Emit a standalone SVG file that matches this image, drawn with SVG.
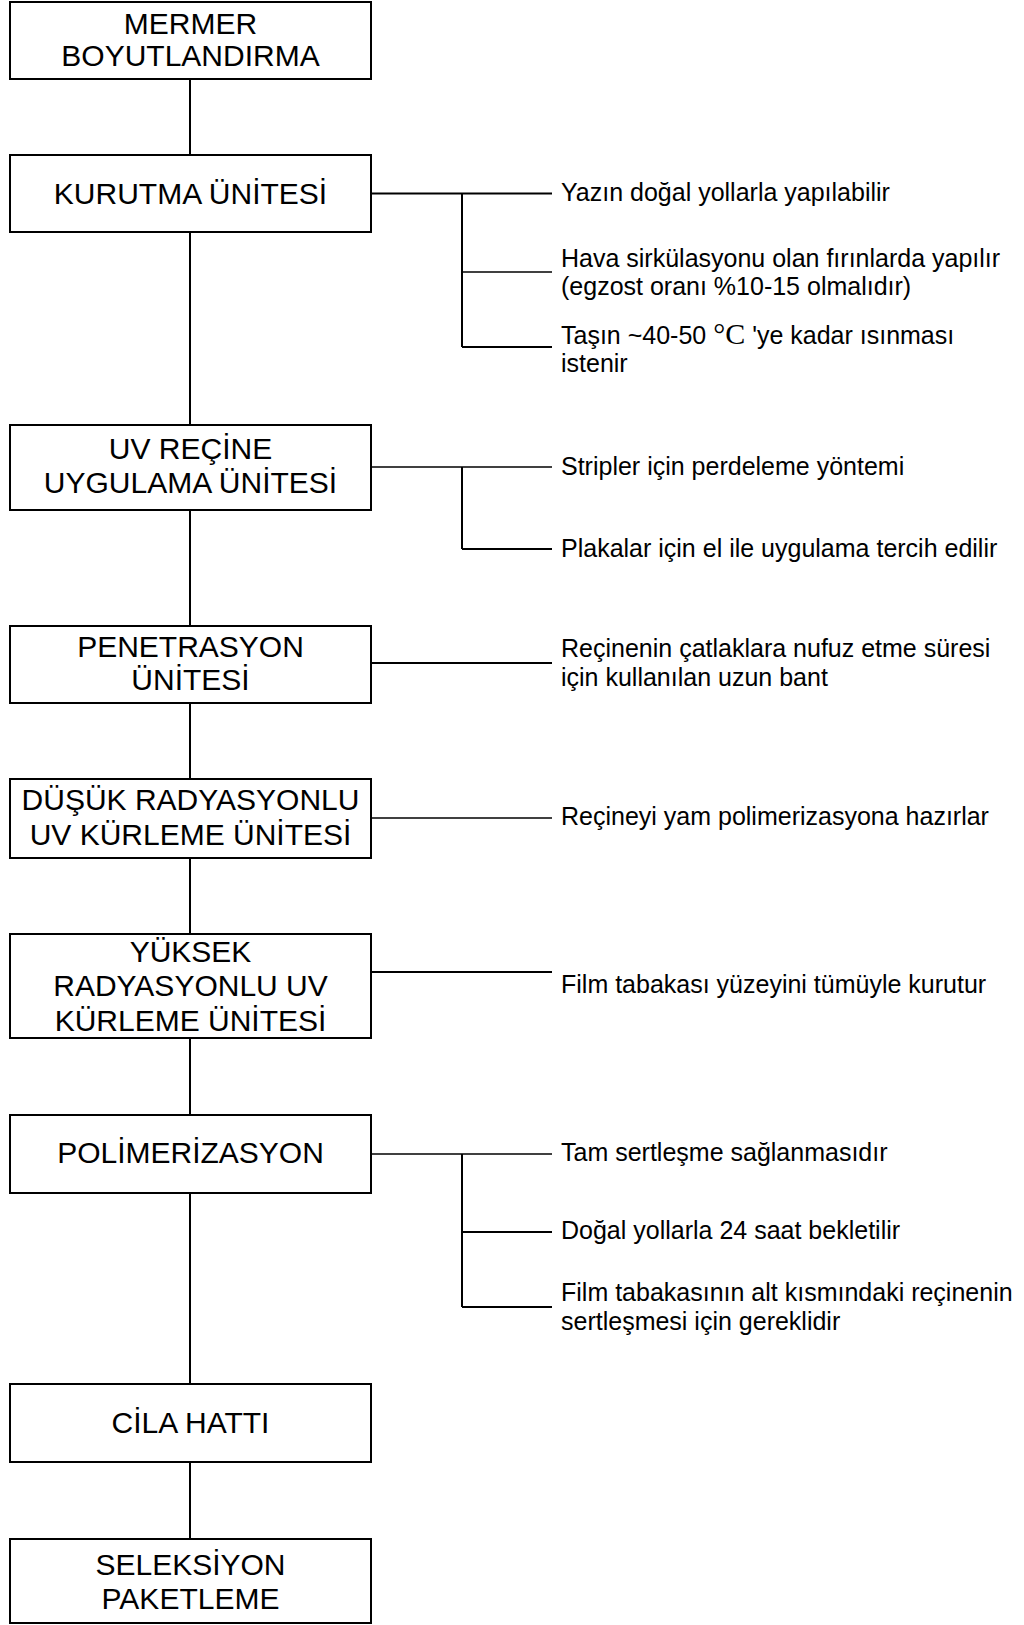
<svg xmlns="http://www.w3.org/2000/svg" width="1024" height="1625" viewBox="0 0 1024 1625">
  <style>
    .box { fill: #fff; stroke: #000; stroke-width: 2; }
    .stem { stroke: #000; stroke-width: 2; fill: none; }
    .thin { stroke: #000; stroke-width: 1.3; fill: none; }
    .label { font-family: "Liberation Sans", Arial, sans-serif; font-size: 30px; fill: #000; text-anchor: middle; }
    .note { font-family: "Liberation Sans", Arial, sans-serif; font-size: 25px; fill: #000; }
    .deg { font-family: "Liberation Serif", "Times New Roman", serif; font-size: 30px; }
  </style>
  <rect width="1024" height="1625" fill="#fff"/>

  <!-- connectors -->
  <g id="connectors">
    <!-- main process spine -->
    <line class="stem" x1="190" y1="79" x2="190" y2="155"/>
    <line class="stem" x1="190" y1="232" x2="190" y2="425"/>
    <line class="stem" x1="190" y1="510" x2="190" y2="626"/>
    <line class="stem" x1="190" y1="703" x2="190" y2="779"/>
    <line class="stem" x1="190" y1="858" x2="190" y2="934"/>
    <line class="stem" x1="190" y1="1038" x2="190" y2="1115"/>
    <line class="stem" x1="190" y1="1193" x2="190" y2="1384"/>
    <line class="stem" x1="190" y1="1462" x2="190" y2="1539"/>

    <!-- drying notes -->
    <line class="stem" x1="371" y1="193.5" x2="552" y2="193.5"/>
    <line class="stem" x1="462" y1="193.5" x2="462" y2="347"/>
    <line class="thin" x1="462" y1="272" x2="552" y2="272"/>
    <line class="stem" x1="462" y1="347" x2="552" y2="347"/>

    <!-- resin application notes -->
    <line class="thin" x1="371" y1="467" x2="552" y2="467"/>
    <line class="stem" x1="462" y1="467" x2="462" y2="549"/>
    <line class="stem" x1="462" y1="549" x2="552" y2="549"/>

    <!-- penetration note -->
    <line class="stem" x1="371" y1="663" x2="552" y2="663"/>

    <!-- low radiation note -->
    <line class="thin" x1="371" y1="818" x2="552" y2="818"/>

    <!-- high radiation note -->
    <line class="stem" x1="371" y1="972" x2="552" y2="972"/>

    <!-- polymerisation notes -->
    <line class="thin" x1="371" y1="1154" x2="552" y2="1154"/>
    <line class="stem" x1="462" y1="1154" x2="462" y2="1307"/>
    <line class="stem" x1="462" y1="1232" x2="552" y2="1232"/>
    <line class="stem" x1="462" y1="1307" x2="552" y2="1307"/>
  </g>

  <!-- process steps -->
  <g id="n-boyutlandirma">
    <rect class="box" x="10" y="2" width="361" height="77"/>
    <text class="label" x="190.5" y="34">MERMER</text>
    <text class="label" x="190.5" y="66">BOYUTLANDIRMA</text>
  </g>
  <g id="n-kurutma">
    <rect class="box" x="10" y="155" width="361" height="77"/>
    <text class="label" x="190.5" y="204">KURUTMA ÜNİTESİ</text>
  </g>
  <g id="n-recine">
    <rect class="box" x="10" y="425" width="361" height="85"/>
    <text class="label" x="190.5" y="459">UV REÇİNE</text>
    <text class="label" x="190.5" y="493">UYGULAMA ÜNİTESİ</text>
  </g>
  <g id="n-penetrasyon">
    <rect class="box" x="10" y="626" width="361" height="77"/>
    <text class="label" x="190.5" y="657">PENETRASYON</text>
    <text class="label" x="190.5" y="690">ÜNİTESİ</text>
  </g>
  <g id="n-dusuk">
    <rect class="box" x="10" y="779" width="361" height="79"/>
    <text class="label" x="190.5" y="810">DÜŞÜK RADYASYONLU</text>
    <text class="label" x="190.5" y="845">UV KÜRLEME ÜNİTESİ</text>
  </g>
  <g id="n-yuksek">
    <rect class="box" x="10" y="934" width="361" height="104"/>
    <text class="label" x="190.5" y="962">YÜKSEK</text>
    <text class="label" x="190.5" y="996">RADYASYONLU UV</text>
    <text class="label" x="190.5" y="1031">KÜRLEME ÜNİTESİ</text>
  </g>
  <g id="n-polimerizasyon">
    <rect class="box" x="10" y="1115" width="361" height="78"/>
    <text class="label" x="190.5" y="1163">POLİMERİZASYON</text>
  </g>
  <g id="n-cila">
    <rect class="box" x="10" y="1384" width="361" height="78"/>
    <text class="label" x="190.5" y="1433">CİLA HATTI</text>
  </g>
  <g id="n-seleksiyon">
    <rect class="box" x="10" y="1539" width="361" height="84"/>
    <text class="label" x="190.5" y="1575">SELEKSİYON</text>
    <text class="label" x="190.5" y="1609">PAKETLEME</text>
  </g>

  <!-- side notes -->
  <g id="notes-kurutma">
    <text class="note" x="561" y="201">Yazın doğal yollarla yapılabilir</text>
    <text class="note" x="561" y="266.5">Hava sirkülasyonu olan fırınlarda yapılır</text>
    <text class="note" x="561" y="295">(egzost oranı %10-15 olmalıdır)</text>
    <text class="note" x="561" y="343.5">Taşın ~40-50 <tspan class="deg">°C</tspan> 'ye kadar ısınması</text>
    <text class="note" x="561" y="372">istenir</text>
  </g>
  <g id="notes-recine">
    <text class="note" x="561" y="475">Stripler için perdeleme yöntemi</text>
    <text class="note" x="561" y="556.5">Plakalar için el ile uygulama tercih edilir</text>
  </g>
  <g id="notes-penetrasyon">
    <text class="note" x="561" y="657">Reçinenin çatlaklara nufuz etme süresi</text>
    <text class="note" x="561" y="686">için kullanılan uzun bant</text>
  </g>
  <g id="notes-dusuk">
    <text class="note" x="561" y="825">Reçineyi yam polimerizasyona hazırlar</text>
  </g>
  <g id="notes-yuksek">
    <text class="note" x="561" y="993">Film tabakası yüzeyini tümüyle kurutur</text>
  </g>
  <g id="notes-polimerizasyon">
    <text class="note" x="561" y="1161">Tam sertleşme sağlanmasıdır</text>
    <text class="note" x="561" y="1239">Doğal yollarla 24 saat bekletilir</text>
    <text class="note" x="561" y="1301">Film tabakasının alt kısmındaki reçinenin</text>
    <text class="note" x="561" y="1330">sertleşmesi için gereklidir</text>
  </g>
</svg>
